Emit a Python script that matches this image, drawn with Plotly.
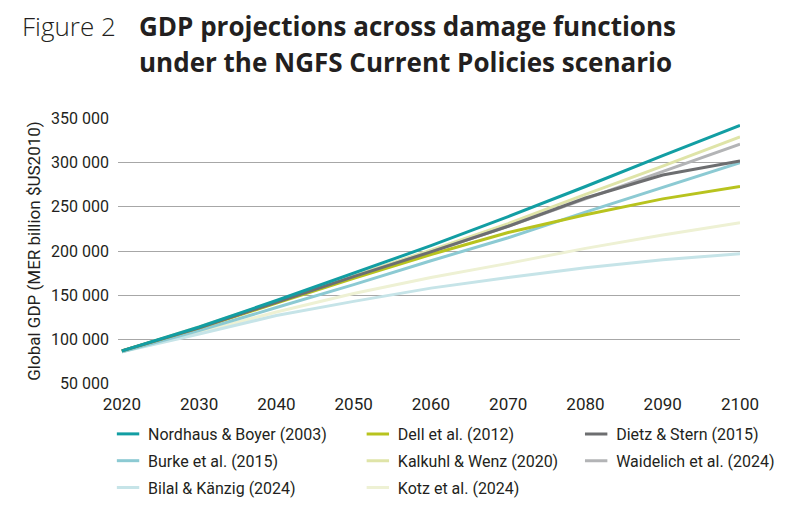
import plotly.graph_objects as go

# projection years
years = [2020, 2030, 2040, 2050, 2060, 2070, 2080, 2090, 2100]

# global GDP, MER billion $US2010
nordhaus = [87000, 114000, 144000, 175000, 206000, 239000, 273000, 308000, 342000]
dell = [87000, 113000, 141000, 169000, 196000, 221000, 241000, 259000, 273000]
dietz = [87000, 113000, 142000, 171000, 199000, 228000, 260000, 286000, 302000]
burke = [86000, 110000, 136000, 162000, 189000, 215000, 244000, 272000, 300000]
kalkuhl = [87000, 114000, 143000, 172000, 201000, 231000, 264000, 296000, 329000]
waidelich = [87000, 113000, 142000, 171000, 199000, 228000, 259000, 290000, 321000]
bilal = [86000, 106000, 127000, 143000, 158000, 170000, 181000, 190000, 197000]
kotz = [86000, 108000, 131000, 152000, 170000, 186000, 203000, 218000, 232000]

y_ticks = [50000, 100000, 150000, 200000, 250000, 300000, 350000]
x_ticks = [2020, 2030, 2040, 2050, 2060, 2070, 2080, 2090, 2100]

# name, values, colour, legend column
series = [
    ("Nordhaus & Boyer (2003)", nordhaus, "#129ea3", "legend"),
    ("Burke et al. (2015)", burke, "#8ccad3", "legend"),
    ("Bilal & Känzig (2024)", bilal, "#c6e4e8", "legend"),
    ("Dell et al. (2012)", dell, "#b8c31e", "legend2"),
    ("Kalkuhl & Wenz (2020)", kalkuhl, "#dfe4a8", "legend2"),
    ("Kotz et al. (2024)", kotz, "#eef1d4", "legend2"),
    ("Dietz & Stern (2015)", dietz, "#6d6e70", "legend3"),
    ("Waidelich et al. (2024)", waidelich, "#b3b4b6", "legend3"),
]

# order the lines are stacked in (last on top)
draw_order = ["Kotz et al. (2024)", "Bilal & Känzig (2024)", "Kalkuhl & Wenz (2020)",
              "Waidelich et al. (2024)", "Burke et al. (2015)", "Dell et al. (2012)",
              "Dietz & Stern (2015)", "Nordhaus & Boyer (2003)"]

FONT = "Roboto, sans-serif"
TITLE_FONT = "Open Sans, sans-serif"
INK = "#231f20"

fig = go.Figure()

lookup = {s[0]: s for s in series}
for name in draw_order:
    _, vals, colour, _ = lookup[name]
    fig.add_trace(go.Scatter(x=years, y=vals, mode="lines", name=name,
                             line=dict(color=colour, width=3), showlegend=False))

# short dash legend keys
for name, vals, colour, leg in series:
    fig.add_trace(go.Scatter(x=[None], y=[None], mode="markers", name=name, legend=leg,
                             legendgroup=name,
                             marker=dict(symbol="line-ew-open", size=18, color=colour,
                                         line=dict(color=colour, width=3))))

legend_style = dict(orientation="v", yanchor="top", y=-0.124, xanchor="left",
                    bgcolor="rgba(0,0,0,0)", tracegroupgap=3,
                    font=dict(family=FONT, size=16, color=INK))

# page body adds an 8px offset, so the plot box is set 8px up/left
fig.update_layout(
    width=793, height=507,
    margin=dict(l=110, r=61, t=110, b=131, autoexpand=False),
    paper_bgcolor="white", plot_bgcolor="white",
    separators=". ",
    font=dict(family=FONT, size=16, color=INK),
    legend=dict(x=-0.016, **legend_style),
    legend2=dict(x=0.3856, **legend_style),
    legend3=dict(x=0.7366, **legend_style),
    xaxis=dict(range=[2019.5, 2100], tickvals=x_ticks, showgrid=False,
               showline=False, zeroline=False, ticks="", ticklabelstandoff=8,
               tickfont=dict(family=FONT, size=17, color=INK)),
    yaxis=dict(range=[49500, 350500], tickvals=y_ticks, tickformat=",d",
               showgrid=True, gridcolor="#a7a7a7", gridwidth=1.3,
               zeroline=False, showline=False, ticks="", ticklabelstandoff=8,
               tickfont=dict(family=FONT, size=16, color=INK),
               title=dict(text="Global GDP (MER billion $US2010)", standoff=6,
                          font=dict(family=FONT, size=17, color=INK))),
)

fig.add_annotation(text="Figure 2", xref="paper", yref="paper", x=-0.158, y=1.346,
                   xanchor="left", yanchor="middle", showarrow=False,
                   font=dict(family=TITLE_FONT, size=26, color=INK, weight=300))
fig.add_annotation(text="<b>GDP projections across damage functions</b>", xref="paper",
                   yref="paper", x=0.0305, y=1.346, xanchor="left", yanchor="middle",
                   showarrow=False, font=dict(family=TITLE_FONT, size=26, color=INK))
fig.add_annotation(text="<b>under the NGFS Current Policies scenario</b>", xref="paper",
                   yref="paper", x=0.0305, y=1.2105, xanchor="left", yanchor="middle",
                   showarrow=False, font=dict(family=TITLE_FONT, size=26, color=INK))

fig.write_html("out.html")
